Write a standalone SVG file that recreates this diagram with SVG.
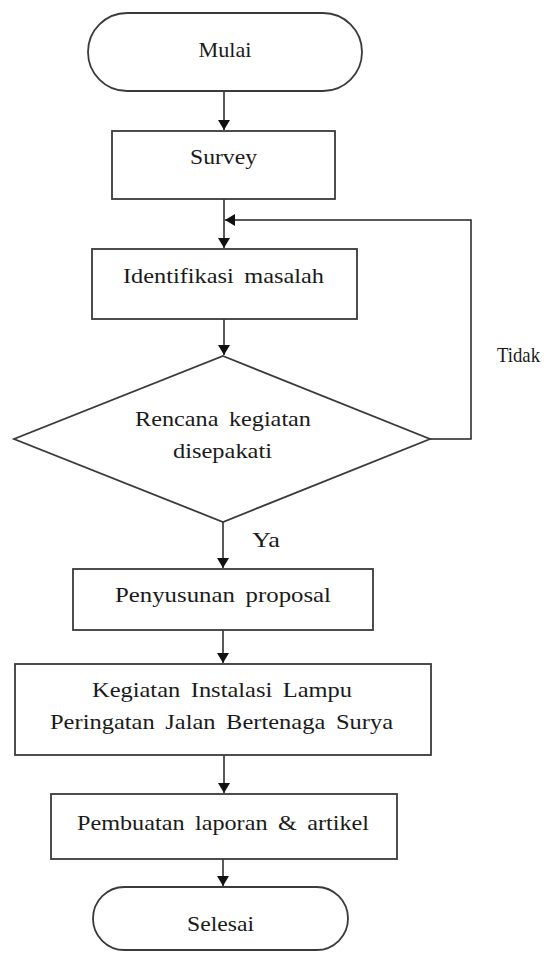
<svg xmlns="http://www.w3.org/2000/svg" width="555" height="955" viewBox="0 0 555 955">
<style>
.shape{fill:#fff;stroke:#3a3a3a;stroke-width:1.8}
.line{fill:none;stroke:#222;stroke-width:1.5}
text{font-family:"Liberation Serif","Times New Roman",serif;font-size:22px;fill:#1a1a1a;text-anchor:middle;word-spacing:4px}
.lbl{text-anchor:start}
</style>
<defs>
<marker id="ah" markerWidth="10" markerHeight="12" refX="10" refY="6" orient="auto" markerUnits="userSpaceOnUse">
<path d="M0,0 L10,6 L0,12 Z" fill="#111"/>
</marker>
</defs>
<rect width="555" height="955" fill="#fff"/>
<g id="connectors">
<line class="line" x1="224" y1="91" x2="224" y2="130" marker-end="url(#ah)"/>
<line class="line" x1="224" y1="199" x2="224" y2="248" marker-end="url(#ah)"/>
<line class="line" x1="224" y1="319" x2="224" y2="355" marker-end="url(#ah)"/>
<polyline class="line" points="430,439 471,439 471,220 225,220" marker-end="url(#ah)"/>
<line class="line" x1="223" y1="522" x2="223" y2="568" marker-end="url(#ah)"/>
<line class="line" x1="223" y1="630" x2="223" y2="663" marker-end="url(#ah)"/>
<line class="line" x1="224" y1="755" x2="224" y2="793" marker-end="url(#ah)"/>
<line class="line" x1="223" y1="859" x2="223" y2="886" marker-end="url(#ah)"/>
<text class="lbl" x="252" y="547" textLength="28" lengthAdjust="spacingAndGlyphs">Ya</text>
<text class="lbl" x="497" y="362" textLength="43" lengthAdjust="spacingAndGlyphs">Tidak</text>
</g>
<g id="mulai">
<rect class="shape" x="88" y="13" width="274" height="78" rx="39" ry="39"/>
<text x="225" y="57" textLength="53" lengthAdjust="spacingAndGlyphs">Mulai</text>
</g>
<g id="survey">
<rect class="shape" x="112" y="131" width="223" height="68"/>
<text x="223.5" y="164" textLength="67" lengthAdjust="spacingAndGlyphs">Survey</text>
</g>
<g id="identifikasi">
<rect class="shape" x="92" y="249" width="265" height="70"/>
<text x="223.5" y="283" textLength="201" lengthAdjust="spacingAndGlyphs">Identifikasi masalah</text>
</g>
<g id="keputusan">
<polygon class="shape" points="223,356 430,439 223,522 14,439"/>
<text x="223" y="426" textLength="176" lengthAdjust="spacingAndGlyphs">Rencana kegiatan</text>
<text x="222.5" y="458" textLength="99" lengthAdjust="spacingAndGlyphs">disepakati</text>
</g>
<g id="proposal">
<rect class="shape" x="73" y="569" width="300" height="61"/>
<text x="223" y="602" textLength="216" lengthAdjust="spacingAndGlyphs">Penyusunan proposal</text>
</g>
<g id="kegiatan">
<rect class="shape" x="15" y="664" width="416" height="91"/>
<text x="222" y="697" textLength="260" lengthAdjust="spacingAndGlyphs">Kegiatan Instalasi Lampu</text>
<text x="221.5" y="729" textLength="343" lengthAdjust="spacingAndGlyphs">Peringatan Jalan Bertenaga Surya</text>
</g>
<g id="laporan">
<rect class="shape" x="51" y="794" width="346" height="65"/>
<text x="223" y="830" textLength="292" lengthAdjust="spacingAndGlyphs">Pembuatan laporan &amp; artikel</text>
</g>
<g id="selesai">
<rect class="shape" x="93" y="887" width="255" height="63" rx="31.5" ry="31.5"/>
<text x="220.5" y="931" textLength="67" lengthAdjust="spacingAndGlyphs">Selesai</text>
</g>
</svg>
